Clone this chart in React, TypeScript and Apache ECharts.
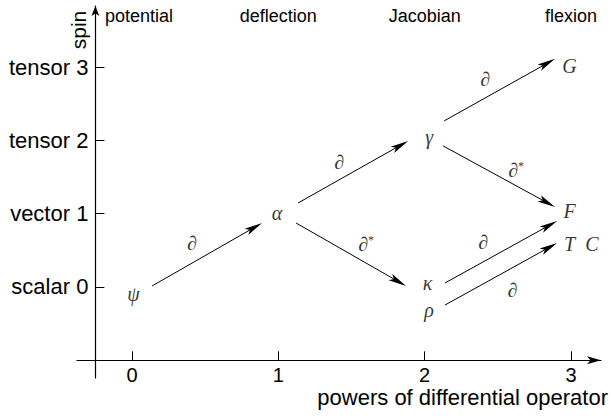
import React, { useEffect, useRef } from 'react';
import * as echarts from 'echarts';

// axis ticks and labels
const xTicks = [0, 1, 2, 3];
const yTicks = [0, 1, 2, 3];
const yTickLabels = ['scalar 0', 'vector 1', 'tensor 2', 'tensor 3'];
const topLabels = ['potential', 'deflection', 'Jacobian', 'flexion'];
const xAxisName = 'powers of differential operator';
const yAxisName = 'spin';

// quantities (nodes)
const nodeNames = ['ψ', 'α', 'γ', 'κ', 'ρ', 'G', 'F', 'T\u2002C'];
const nodeX = [0.01, 0.99, 2.03, 2.02, 2.03, 2.99, 2.99, 3.07];
const nodeY = [-0.1, 1.01, 2.05, 0.05, -0.31, 3.01, 1.04, 0.58];

// operator arrows (start -> tip)
const edgeX1 = [0.137, 1.135, 1.121, 2.133, 2.126, 2.139, 2.139];
const edgeY1 = [0.014, 1.146, 0.873, 2.265, 1.924, 0.055, -0.246];
const edgeX2 = [0.889, 1.887, 1.873, 2.891, 2.891, 2.905, 2.905];
const edgeY2 = [0.873, 1.992, 0.014, 3.111, 1.091, 0.9, 0.6];

// operator labels
const opNames = ['∂', '∂', '∂*', '∂', '∂*', '∂', '∂'];
const opX = [0.41, 1.415, 1.6, 2.413, 2.625, 2.4, 2.6];
const opY = [0.6, 1.705, 0.59, 2.84, 1.6, 0.61, -0.04];

const SANS = '"Liberation Sans", Arial, Helvetica, sans-serif';
const SERIF = '"Liberation Serif", "Times New Roman", serif';

export default function App() {
  const ref = useRef<HTMLDivElement>(null);
  useEffect(() => {
    if (!ref.current) return;
    const chart = echarts.init(ref.current, null, { renderer: 'svg' });
    const xMin = -0.376, xMax = 3.205, yMin = -1.241, yMax = 3.832;
    const option: any = {
      animation: false,
      grid: { left: 77, right: 10, top: 6, bottom: 40, containLabel: false, outerBoundsMode: 'none' },
      xAxis: [
        {
          type: 'value', min: xMin, max: xMax, position: 'bottom', offset: -17.7,
          axisLine: { show: true, onZero: false, symbol: ['none', 'arrow'], symbolSize: [6, 14], lineStyle: { color: '#000', width: 1.2 } },
          axisTick: { show: true, inside: true, length: 9, customValues: xTicks, lineStyle: { color: '#000', width: 1 } },
          axisLabel: { show: true, customValues: xTicks, margin: 5, color: '#000', fontSize: 20, fontFamily: SANS },
          splitLine: { show: false },
        },
        {
          type: 'value', min: xMin, max: xMax, position: 'top',
          axisLine: { show: false }, axisTick: { show: false }, splitLine: { show: false },
          axisLabel: {
            show: true, inside: true, margin: 1, customValues: xTicks, color: '#000', fontSize: 18, fontFamily: SANS,
            hideOverlap: false,
            formatter: (v: number) => {
              const i = xTicks.indexOf(v);
              return i === 0 ? '{p|' + topLabels[i] + '}' : topLabels[i];
            },
            rich: { p: { padding: [0, 0, 0, 14], fontSize: 18, fontFamily: SANS, color: '#000' } },
          },
        },
      ],
      yAxis: {
        type: 'value', min: yMin, max: yMax, position: 'left', offset: -18.4,
        axisLine: { show: true, onZero: false, symbol: ['none', 'arrow'], symbolSize: [6, 10], lineStyle: { color: '#000', width: 1.2 } },
        axisTick: { show: true, inside: true, length: 9, customValues: yTicks, lineStyle: { color: '#000', width: 1 } },
        axisLabel: {
          show: true, customValues: yTicks, margin: 7, color: '#000', fontSize: 22, fontFamily: SANS, padding: [8, 0, 0, 0],
          formatter: (v: number) => yTickLabels[yTicks.indexOf(v)],
        },
        splitLine: { show: false },
      },
      graphic: [
        {
          type: 'text', x: 78, y: 30, rotation: Math.PI / 2,
          style: { text: yAxisName, fill: '#000', fontSize: 21, fontFamily: SANS, align: 'center', verticalAlign: 'middle' },
        },
        {
          type: 'text', x: 608, y: 397,
          style: { text: xAxisName, fill: '#000', fontSize: 22, fontFamily: SANS, align: 'right', verticalAlign: 'middle' },
        },
      ],
      series: [
        {
          type: 'custom', coordinateSystem: 'cartesian2d', clip: false, silent: true,
          encode: { x: [0, 2], y: [1, 3] },
          data: edgeX1.map((x, i) => [x, edgeY1[i], edgeX2[i], edgeY2[i]]),
          renderItem: (params: any, api: any) => {
            const p1 = api.coord([api.value(0), api.value(1)]);
            const p2 = api.coord([api.value(2), api.value(3)]);
            const dx = p2[0] - p1[0], dy = p2[1] - p1[1];
            const len = Math.hypot(dx, dy);
            const ux = dx / len, uy = dy / len;
            const nx = -uy, ny = ux;
            const L = 18, W = 3.6, notch = 14;
            const bx = p2[0] - ux * L, by = p2[1] - uy * L;
            const ex = p2[0] - ux * notch, ey = p2[1] - uy * notch;
            return {
              type: 'group',
              children: [
                { type: 'line', shape: { x1: p1[0], y1: p1[1], x2: ex, y2: ey }, style: { stroke: '#000', lineWidth: 1 } },
                {
                  type: 'polygon',
                  shape: { points: [[p2[0], p2[1]], [bx + nx * W, by + ny * W], [ex, ey], [bx - nx * W, by - ny * W]] },
                  style: { fill: '#000', stroke: 'none' },
                },
              ],
            };
          },
        },
        {
          type: 'scatter', silent: true, symbol: 'circle', symbolSize: 1,
          itemStyle: { color: 'rgba(0,0,0,0)' },
          data: nodeNames.map((n, i) => ({ name: n, value: [nodeX[i], nodeY[i]] })),
          label: {
            show: true, position: 'inside', formatter: '{b}', color: '#000',
            fontSize: 20, fontFamily: SERIF, fontStyle: 'italic',
          },
          emphasis: { disabled: true },
        },
        {
          type: 'scatter', silent: true, symbol: 'circle', symbolSize: 1,
          itemStyle: { color: 'rgba(0,0,0,0)' },
          data: opNames.map((n, i) => ({ name: n, value: [opX[i], opY[i]] })),
          label: {
            show: true, position: 'inside', color: '#000',
            formatter: (p: any) => (p.name === '∂*' ? '{d|∂}{s|*}' : '{d|∂}'),
            rich: {
              d: { fontSize: 20, fontFamily: SERIF, fontStyle: 'italic', color: '#000' },
              s: { fontSize: 12, fontFamily: SERIF, color: '#000', verticalAlign: 'top' },
            },
          },
          emphasis: { disabled: true },
        },
      ],
    };
    chart.setOption(option);
    return () => chart.dispose();
  }, []);
  return (
    <div
      ref={ref}
      style={{ position: 'fixed', left: 0, top: 0, width: 611, height: 418, background: '#fff' }}
    />
  );
}
